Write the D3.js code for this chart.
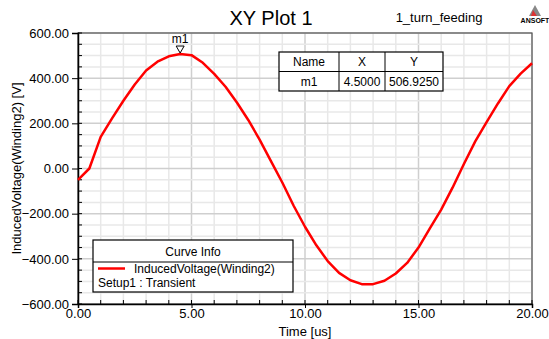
<!DOCTYPE html>
<html>
<head>
<meta charset="utf-8">
<script src="https://cdn.jsdelivr.net/npm/d3@7"></script>
<style>
  body { margin: 0; background: #fff; }
  text { font-family: "Liberation Sans", Arial, sans-serif; fill: #000; }
</style>
</head>
<body>
<div id="chart"></div>
<script>
// Curve samples (time in us, induced voltage in V)
const times = [0, 0.5, 1, 1.5, 2, 2.5, 3, 3.5, 4, 4.5, 5, 5.5, 6, 6.5, 7, 7.5, 8, 8.5, 9, 9.5,
  10, 10.5, 11, 11.5, 12, 12.5, 13, 13.5, 14, 14.5, 15, 15.5, 16, 16.5, 17, 17.5, 18, 18.5, 19, 19.5, 20];
const voltages = [-50, 0, 140, 222, 300, 372, 434, 473, 497, 506.925, 502, 468, 419, 362, 292, 215, 128, 33, -62, -165,
  -258, -340, -410, -462, -495, -512, -512, -497, -465, -418, -350, -265, -182, -85, 20, 120, 205, 288, 365, 420, 466];

const xTicks = [0, 5, 10, 15, 20];
const yTicks = [-600, -400, -200, 0, 200, 400, 600];
const marker = { name: "m1", x: 4.5, y: 506.925 };

const width = 549, height = 339;
const plot = { left: 78, right: 532, top: 33, bottom: 304 };

const svg = d3.select("#chart").append("svg")
    .attr("width", width)
    .attr("height", height);

const x = d3.scaleLinear().domain([0, 20]).range([plot.left, plot.right]);
const y = d3.scaleLinear().domain([-600, 600]).range([plot.bottom, plot.top]);

// Grid
const grid = svg.append("g");
d3.range(0, 20.01, 1).forEach(v => {
    grid.append("line")
        .attr("x1", x(v)).attr("x2", x(v))
        .attr("y1", plot.top).attr("y2", plot.bottom)
        .attr("stroke", v % 5 === 0 ? "#cfcfcf" : "#e8e8e8")
        .attr("stroke-width", 1.5);
});
d3.range(-600, 600.1, 50).forEach(v => {
    grid.append("line")
        .attr("x1", plot.left).attr("x2", plot.right)
        .attr("y1", y(v)).attr("y2", y(v))
        .attr("stroke", v % 200 === 0 ? "#cfcfcf" : "#e8e8e8")
        .attr("stroke-width", 1.5);
});

// Frame
svg.append("rect")
    .attr("x", plot.left).attr("y", plot.top)
    .attr("width", plot.right - plot.left).attr("height", plot.bottom - plot.top)
    .attr("fill", "none").attr("stroke", "#555").attr("stroke-width", 1.2);

// Axes
const yAxis = svg.append("g").attr("transform", `translate(${plot.left},0)`)
    .call(d3.axisLeft(y).tickValues(yTicks).tickFormat(d3.format(".2f")).tickSize(6).tickPadding(3));
yAxis.selectAll("text").style("font-size", "13px").style("font-family", "Liberation Sans, Arial, sans-serif");
yAxis.select(".domain").attr("stroke-width", 1.5);
const yMinor = svg.append("g");
d3.range(-600, 600.1, 50).forEach(v => {
    yMinor.append("line")
        .attr("x1", plot.left).attr("x2", plot.left + 4)
        .attr("y1", y(v)).attr("y2", y(v))
        .attr("stroke", "#000");
});

const xAxis = svg.append("g").attr("transform", `translate(0,${plot.bottom})`)
    .call(d3.axisBottom(x).tickValues(xTicks).tickFormat(d3.format(".2f")).tickSize(4).tickPadding(1));
xAxis.selectAll("text").style("font-size", "13px").style("font-family", "Liberation Sans, Arial, sans-serif");
xAxis.select(".domain").attr("stroke-width", 1.5);
const xMinor = svg.append("g");
d3.range(0, 20.01, 1).forEach(v => {
    xMinor.append("line")
        .attr("x1", x(v)).attr("x2", x(v))
        .attr("y1", plot.bottom).attr("y2", plot.bottom - 4)
        .attr("stroke", "#000");
});

// Axis titles
svg.append("text")
    .attr("x", (plot.left + plot.right) / 2).attr("y", 336)
    .attr("text-anchor", "middle").style("font-size", "13px")
    .text("Time [us]");
svg.append("text")
    .attr("transform", `translate(21,${(plot.top + plot.bottom) / 2}) rotate(-90)`)
    .attr("text-anchor", "middle").style("font-size", "13px")
    .text("InducedVoltage(Winding2) [V]");

// Title and project name
svg.append("text")
    .attr("x", 271).attr("y", 25)
    .attr("text-anchor", "middle").style("font-size", "20px")
    .text("XY Plot 1");
svg.append("text")
    .attr("x", 439).attr("y", 22)
    .attr("text-anchor", "middle").style("font-size", "13px")
    .text("1_turn_feeding");

// ANSOFT logo
const logo = svg.append("g");
logo.append("path").attr("d", "M535,5 L541,16 L529,16 Z").attr("fill", "#888");
logo.append("path").attr("d", "M533,10 L537,16 L531,16 Z").attr("fill", "#d33");
logo.append("text")
    .attr("x", 535).attr("y", 23)
    .attr("text-anchor", "middle").style("font-size", "7px").style("font-weight", "bold")
    .text("ANSOFT");

// Curve
const line = d3.line()
    .x((d, i) => x(times[i]))
    .y(d => y(d));
svg.append("path")
    .datum(voltages)
    .attr("fill", "none")
    .attr("stroke", "#ff0000")
    .attr("stroke-width", 2.5)
    .attr("stroke-linejoin", "round")
    .attr("d", line);

// Marker
const mx = x(marker.x), my = y(marker.y);
svg.append("path")
    .attr("d", `M${mx - 4},${my - 8} L${mx + 4},${my - 8} L${mx},${my - 1} Z`)
    .attr("fill", "#fff").attr("stroke", "#000").attr("stroke-width", 1);
svg.append("text")
    .attr("x", mx).attr("y", my - 11)
    .attr("text-anchor", "middle").style("font-size", "12px")
    .text(marker.name);

// Marker table
const tbl = { left: 279, top: 52, rowH: 19.5, cols: [279, 339, 385, 443] };
const tg = svg.append("g");
tg.append("rect")
    .attr("x", tbl.left).attr("y", tbl.top)
    .attr("width", tbl.cols[3] - tbl.left).attr("height", tbl.rowH * 2)
    .attr("fill", "#fff").attr("stroke", "#000").attr("stroke-width", 1.2);
tg.append("line")
    .attr("x1", tbl.left).attr("x2", tbl.cols[3])
    .attr("y1", tbl.top + tbl.rowH).attr("y2", tbl.top + tbl.rowH)
    .attr("stroke", "#000");
[tbl.cols[1], tbl.cols[2]].forEach(c => {
    tg.append("line")
        .attr("x1", c).attr("x2", c)
        .attr("y1", tbl.top).attr("y2", tbl.top + tbl.rowH * 2)
        .attr("stroke", "#000");
});
const rows = [["Name", "X", "Y"], [marker.name, d3.format(".4f")(marker.x), d3.format(".4f")(marker.y)]];
rows.forEach((r, ri) => {
    r.forEach((cell, ci) => {
        tg.append("text")
            .attr("x", (tbl.cols[ci] + tbl.cols[ci + 1]) / 2)
            .attr("y", tbl.top + tbl.rowH * ri + 14)
            .attr("text-anchor", "middle").style("font-size", "12px")
            .text(cell);
    });
});

// Legend (Curve Info)
const lg = svg.append("g");
lg.append("rect")
    .attr("x", 93).attr("y", 240).attr("width", 200).attr("height", 52)
    .attr("fill", "#fff").attr("stroke", "#000").attr("stroke-width", 1.2);
lg.append("line")
    .attr("x1", 93).attr("x2", 293).attr("y1", 262).attr("y2", 262)
    .attr("stroke", "#000");
lg.append("text")
    .attr("x", 193).attr("y", 256)
    .attr("text-anchor", "middle").style("font-size", "12px")
    .text("Curve Info");
lg.append("line")
    .attr("x1", 98).attr("x2", 125).attr("y1", 268.5).attr("y2", 268.5)
    .attr("stroke", "#ff0000").attr("stroke-width", 2.5);
lg.append("text")
    .attr("x", 134).attr("y", 273).style("font-size", "12px")
    .text("InducedVoltage(Winding2)");
lg.append("text")
    .attr("x", 98).attr("y", 287).style("font-size", "12px")
    .text("Setup1 : Transient");
</script>
</body>
</html>
